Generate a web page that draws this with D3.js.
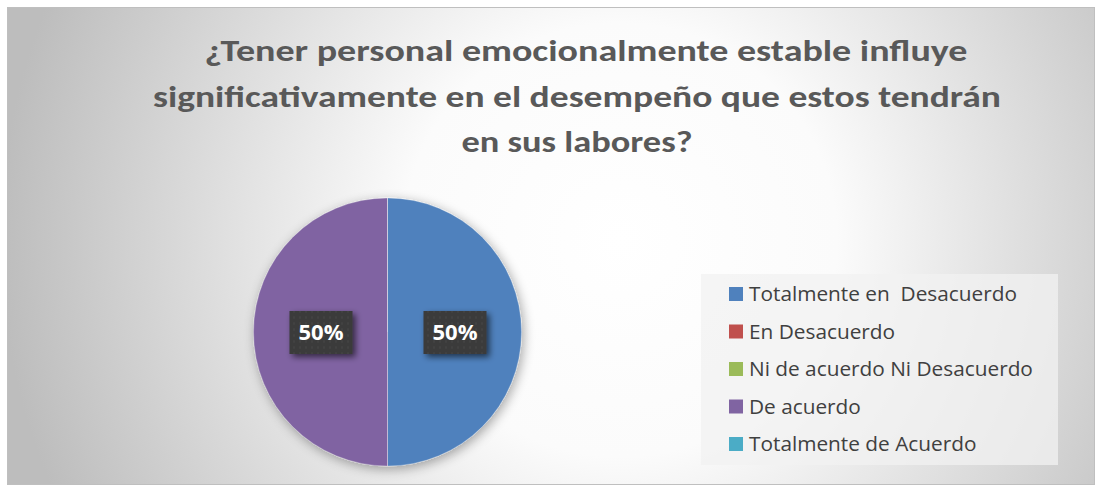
<!DOCTYPE html>
<html><head><meta charset="utf-8">
<script src="https://cdn.jsdelivr.net/npm/d3@7"></script>
<style>html,body{margin:0;padding:0;background:#fff;}svg{display:block;}</style>
</head><body>
<script>
const titleLines = ["¿Tener personal emocionalmente estable influye", "significativamente en el desempeño que estos tendrán", "en sus labores?"];
const categories = ["Totalmente en  Desacuerdo", "En Desacuerdo", "Ni de acuerdo Ni Desacuerdo", "De acuerdo", "Totalmente de Acuerdo"];
const values = [50, 0, 0, 50, 0];
const colors = ["#4f81bd", "#c0504d", "#9bbb59", "#8064a2", "#4bacc6"];

const W = 1101, H = 491;
const svg = d3.select("body").append("svg").attr("width", W).attr("height", H);
const defs = svg.append("defs");
const rg = defs.append("radialGradient").attr("id", "bg").attr("gradientUnits", "userSpaceOnUse")
  .attr("cx", 620).attr("cy", 240).attr("r", 620);
rg.append("stop").attr("offset", "0").attr("stop-color", "#ffffff");
rg.append("stop").attr("offset", "0.35").attr("stop-color", "#fbfbfb");
rg.append("stop").attr("offset", "1").attr("stop-color", "#bdbdbd");
const sh = defs.append("filter").attr("id", "sh").attr("x", "-30%").attr("y", "-30%").attr("width", "160%").attr("height", "160%");
sh.append("feGaussianBlur").attr("in", "SourceAlpha").attr("stdDeviation", 6).attr("result", "b");
sh.append("feOffset").attr("in", "b").attr("dx", 2).attr("dy", 3).attr("result", "o");
sh.append("feComponentTransfer").attr("in", "o").attr("result", "o2").append("feFuncA").attr("type", "linear").attr("slope", 0.35);
const m = sh.append("feMerge"); m.append("feMergeNode").attr("in", "o2"); m.append("feMergeNode").attr("in", "SourceGraphic");
const sh2 = defs.append("filter").attr("id", "sh2").attr("x", "-30%").attr("y", "-30%").attr("width", "160%").attr("height", "160%");
sh2.append("feGaussianBlur").attr("in", "SourceAlpha").attr("stdDeviation", 3).attr("result", "b");
sh2.append("feOffset").attr("in", "b").attr("dx", 3).attr("dy", 3).attr("result", "o");
sh2.append("feComponentTransfer").attr("in", "o").attr("result", "o2").append("feFuncA").attr("type", "linear").attr("slope", 0.6);
const m2 = sh2.append("feMerge"); m2.append("feMergeNode").attr("in", "o2"); m2.append("feMergeNode").attr("in", "SourceGraphic");
const pat = defs.append("pattern").attr("id", "dots").attr("width", 6).attr("height", 6).attr("patternUnits", "userSpaceOnUse");
pat.append("rect").attr("width", 6).attr("height", 6).attr("fill", "#3a3a3a");
pat.append("circle").attr("cx", 3).attr("cy", 3).attr("r", 0.8).attr("fill", "#4d4d4d");

svg.append("rect").attr("x", 7.5).attr("y", 7.5).attr("width", 1087).attr("height", 477)
  .attr("fill", "url(#bg)").attr("stroke", "#bfbfbf").attr("stroke-width", 1);

const font = "Carlito, Calibri, Lato, 'Open Sans', sans-serif";
const font2 = "'Open Sans', 'Noto Sans', sans-serif";
const titleY = [61, 107, 152];
const titleX = [586, 577, 577];
const titleW = [763, 848, 231];
svg.append("g").selectAll("text").data(titleLines).join("text")
  .attr("x", (d, i) => titleX[i]).attr("y", (d, i) => titleY[i])
  .attr("text-anchor", "middle").attr("font-family", font).attr("font-weight", "bold")
  .attr("font-size", 31).attr("fill", "#595959")
  .attr("textLength", (d, i) => titleW[i]).attr("lengthAdjust", "spacingAndGlyphs")
  .text(d => d);

const cx = 387.5, cy = 332, r = 134;
const pie = d3.pie().sort(null).value(d => d);
const arcs = pie(values);
const arc = d3.arc().innerRadius(0).outerRadius(r);
const g = svg.append("g").attr("transform", `translate(${cx},${cy})`);
g.append("g").attr("filter", "url(#sh)").selectAll("path").data(arcs).join("path")
  .attr("d", arc).attr("fill", (d, i) => colors[i]).attr("stroke", "#ffffff").attr("stroke-width", 0.6)
  .attr("stroke-opacity", 0.4);

const labelArc = d3.arc().innerRadius(r * 0.5).outerRadius(r * 0.5);
const lab = g.append("g").selectAll("g").data(arcs.filter(d => d.data > 0)).join("g")
  .attr("transform", d => { const c = labelArc.centroid(d); return `translate(${c[0] + 0.5},${c[1] + 0.5})`; });
lab.append("rect").attr("x", -31.5).attr("y", -21.5).attr("width", 63).attr("height", 43)
  .attr("fill", "url(#dots)").attr("filter", "url(#sh2)");
lab.append("text").attr("text-anchor", "middle").attr("dy", "0.36em")
  .attr("font-family", font2).attr("font-weight", "bold").attr("font-size", 22).attr("fill", "#ffffff")
  .text(d => Math.round(d.data / d3.sum(values) * 100) + "%");

const lg = svg.append("g");
lg.append("rect").attr("x", 701).attr("y", 274).attr("width", 357).attr("height", 191)
  .attr("fill", "#f2f2f2").attr("fill-opacity", 0.75);
const ly = d3.scalePoint().domain(categories).range([294, 444]);
const items = lg.selectAll("g.item").data(categories).join("g").attr("class", "item")
  .attr("transform", d => `translate(729,${ly(d)})`);
items.append("rect").attr("x", 0).attr("y", -7).attr("width", 14).attr("height", 14).attr("fill", (d, i) => colors[i]);
items.append("text").attr("x", 20).attr("dy", "0.35em").attr("font-family", font2).attr("font-size", 20.8)
  .attr("fill", "#404040").style("white-space", "pre").attr("xml:space", "preserve").text(d => d);
</script>
</body></html>
